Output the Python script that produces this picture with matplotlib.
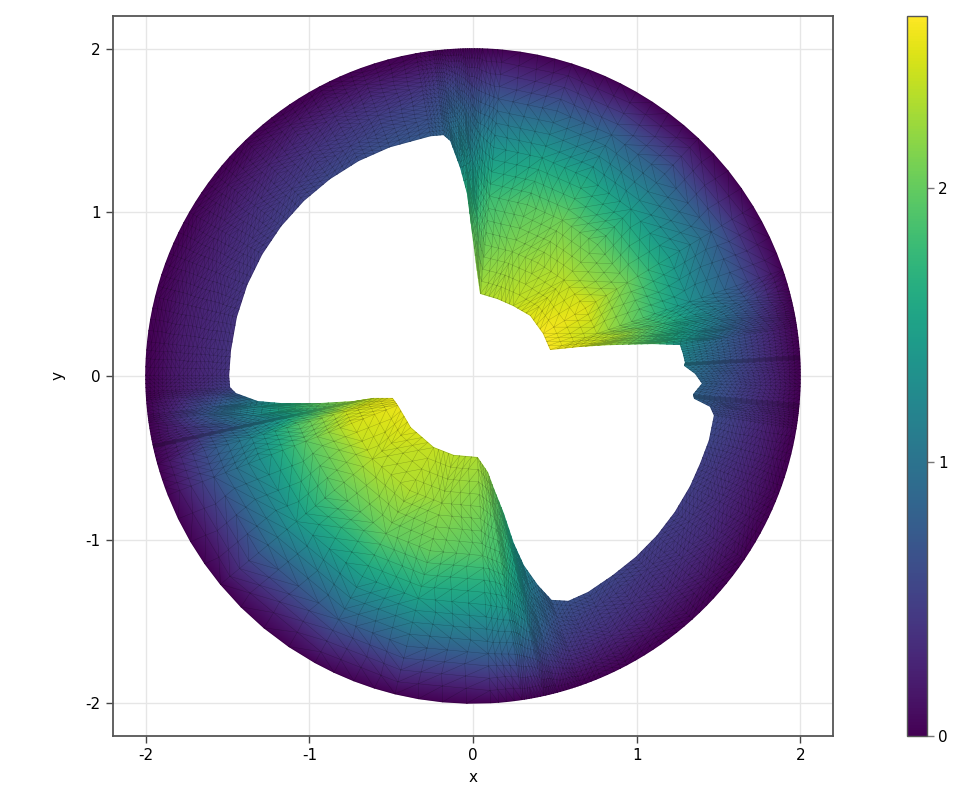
import numpy as np
import matplotlib
matplotlib.use('Agg')
import matplotlib.pyplot as plt
import matplotlib.tri as mtri

plt.rcParams['font.family'] = 'DejaVu Sans'
plt.rcParams['axes.unicode_minus'] = False

# hole outline, counter clockwise
inner_x = [1.359, 1.292, 1.298, 1.285, 1.267, 1.10, 0.95, 0.80, 0.65, 0.473,
           0.43, 0.351, 0.247, 0.15, 0.046, 0.02, -0.003, -0.034, -0.076, -0.137,
           -0.18, -0.26, -0.51, -0.70, -0.876, -1.035, -1.174, -1.29, -1.382, -1.446,
           -1.482, -1.493, -1.487, -1.45, -1.316, -1.176, -0.931, -0.73, -0.608, -0.492,
           -0.461, -0.382, -0.241, -0.119, 0.027, 0.089, 0.125, 0.186, 0.247, 0.308,
           0.394, 0.479, 0.583, 0.705, 0.855, 0.997, 1.125, 1.235, 1.328, 1.391,
           1.444, 1.475, 1.45, 1.353, 1.347, 1.402]
inner_y = [0.015, 0.064, 0.082, 0.137, 0.192, 0.198, 0.195, 0.19, 0.18, 0.162,
           0.26, 0.37, 0.43, 0.473, 0.504, 0.69, 0.87, 1.115, 1.273, 1.438,
           1.475, 1.468, 1.40, 1.316, 1.205, 1.072, 0.917, 0.745, 0.558, 0.36,
           0.156, 0.003, -0.07, -0.107, -0.156, -0.168, -0.168, -0.156, -0.137, -0.137,
           -0.18, -0.315, -0.437, -0.485, -0.498, -0.589, -0.687, -0.84, -1.023, -1.157,
           -1.279, -1.371, -1.377, -1.322, -1.22, -1.107, -0.977, -0.833, -0.676, -0.534,
           -0.394, -0.241, -0.186, -0.137, -0.113, -0.046]

# values at the hole edge and at 4 steps towards the outer circle (which is 0)
v_ring0 = [0.95, 1.10, 1.15, 1.20, 1.35, 1.90, 2.10, 2.30, 2.50, 2.60,
           2.60, 2.50, 2.40, 2.35, 2.30, 2.15, 2.00, 1.70, 1.35, 1.00,
           0.85, 0.75, 0.68, 0.62, 0.58, 0.54, 0.50, 0.46, 0.42, 0.40,
           0.40, 0.40, 0.50, 0.70, 1.15, 1.55, 2.00, 2.25, 2.40, 2.55,
           2.55, 2.50, 2.40, 2.35, 2.30, 2.20, 2.05, 1.75, 1.45, 1.20,
           0.95, 0.75, 0.65, 0.60, 0.55, 0.50, 0.50, 0.50, 0.50, 0.50,
           0.55, 0.62, 0.70, 0.85, 0.85, 0.85]
v_ring1 = [0.75, 0.88, 0.90, 0.95, 1.05, 1.50, 1.75, 2.00, 2.25, 2.35,
           2.50, 2.35, 2.25, 2.15, 2.05, 1.85, 1.65, 1.40, 1.15, 0.88,
           0.75, 0.65, 0.58, 0.52, 0.48, 0.45, 0.42, 0.38, 0.35, 0.33,
           0.33, 0.33, 0.40, 0.55, 0.95, 1.25, 1.65, 1.85, 2.05, 2.40,
           2.45, 2.35, 2.30, 2.20, 2.10, 1.95, 1.85, 1.60, 1.30, 1.08,
           0.85, 0.65, 0.55, 0.50, 0.46, 0.42, 0.42, 0.42, 0.42, 0.42,
           0.45, 0.50, 0.55, 0.70, 0.70, 0.68]
v_ring2 = [0.57, 0.66, 0.68, 0.72, 0.78, 1.10, 1.32, 1.55, 1.75, 1.90,
           2.05, 2.00, 2.05, 1.95, 1.80, 1.55, 1.30, 1.10, 0.95, 0.72,
           0.62, 0.55, 0.48, 0.43, 0.40, 0.37, 0.34, 0.31, 0.28, 0.27,
           0.27, 0.27, 0.30, 0.42, 0.72, 0.95, 1.20, 1.30, 1.50, 1.90,
           1.95, 1.95, 2.00, 2.00, 1.90, 1.80, 1.65, 1.40, 1.10, 0.92,
           0.70, 0.53, 0.45, 0.42, 0.38, 0.35, 0.35, 0.35, 0.33, 0.33,
           0.35, 0.38, 0.42, 0.52, 0.52, 0.50]
v_ring3 = [0.38, 0.45, 0.46, 0.48, 0.52, 0.72, 0.88, 1.05, 1.20, 1.30,
           1.45, 1.45, 1.55, 1.50, 1.35, 1.15, 0.95, 0.80, 0.70, 0.55,
           0.47, 0.40, 0.35, 0.31, 0.29, 0.26, 0.24, 0.22, 0.20, 0.20,
           0.20, 0.20, 0.20, 0.30, 0.50, 0.65, 0.75, 0.80, 0.95, 1.20,
           1.30, 1.40, 1.45, 1.50, 1.45, 1.40, 1.30, 1.10, 0.85, 0.70,
           0.52, 0.40, 0.33, 0.30, 0.28, 0.25, 0.25, 0.25, 0.23, 0.23,
           0.25, 0.26, 0.28, 0.35, 0.35, 0.35]
v_ring4 = [0.20, 0.22, 0.23, 0.24, 0.26, 0.36, 0.45, 0.55, 0.65, 0.72,
           0.80, 0.80, 0.85, 0.80, 0.72, 0.60, 0.50, 0.45, 0.40, 0.30,
           0.25, 0.20, 0.18, 0.16, 0.15, 0.14, 0.13, 0.12, 0.11, 0.10,
           0.10, 0.10, 0.10, 0.15, 0.25, 0.33, 0.35, 0.38, 0.45, 0.60,
           0.65, 0.70, 0.75, 0.80, 0.80, 0.75, 0.70, 0.60, 0.45, 0.38,
           0.28, 0.20, 0.17, 0.15, 0.14, 0.13, 0.13, 0.13, 0.12, 0.12,
           0.12, 0.13, 0.14, 0.18, 0.18, 0.18]
v_outer = [0.0] * len(inner_x)
ring_pos = [0.0, 0.2, 0.4, 0.6, 0.8, 1.0]

hx = np.array(inner_x)
hy = np.array(inner_y)
theta = np.arctan2(hy, hx)
vals = np.array([v_ring0, v_ring1, v_ring2, v_ring3, v_ring4, v_outer])
n_rows = len(hx)
n_rings = len(ring_pos)

xs, ys, ss = [], [], []
for s in ring_pos:
    xs.append(hx + s * (2 * np.cos(theta) - hx))
    ys.append(hy + s * (2 * np.sin(theta) - hy))
    ss.append(np.full(n_rows, s))
xs = np.concatenate(xs)
ys = np.concatenate(ys)
ss = np.concatenate(ss)
zs = vals.ravel()

triangles = []
for j in range(n_rings - 1):
    for i in range(n_rows):
        a = j * n_rows + i
        b = j * n_rows + (i + 1) % n_rows
        c = a + n_rows
        d = b + n_rows
        if (i + j) % 2 == 0:
            triangles += [[a, b, d], [a, d, c]]
        else:
            triangles += [[a, b, c], [b, d, c]]

tri = mtri.Triangulation(xs, ys, triangles)
refiner = mtri.UniformTriRefiner(tri)
fine, z_fine = refiner.refine_field(zs, mtri.LinearTriInterpolator(tri, zs), subdiv=2)
_, s_fine = refiner.refine_field(ss, mtri.LinearTriInterpolator(tri, ss), subdiv=2)

# push refined nodes of the last ring back on to the circle
xf = fine.x.copy()
yf = fine.y.copy()
on_edge = s_fine > 0.999
rf = np.hypot(xf, yf)
xf[on_edge] *= 2 / rf[on_edge]
yf[on_edge] *= 2 / rf[on_edge]
fine = mtri.Triangulation(xf, yf, fine.triangles)

fig = plt.figure(figsize=(9.6, 8), dpi=100)
ax = fig.add_axes([113 / 960, 64 / 800, 720 / 960, 720 / 800])
cax = fig.add_axes([907 / 960, 64 / 800, 20 / 960, 720 / 800])

mesh = ax.tripcolor(fine, z_fine, shading='gouraud', cmap='viridis', vmin=0, vmax=2.628)
ax.triplot(fine, color='black', lw=0.3, alpha=0.28)

ax.set_xlim(-2.2, 2.2)
ax.set_ylim(-2.2, 2.2)
ax.set_xticks([-2, -1, 0, 1, 2])
ax.set_yticks([-2, -1, 0, 1, 2])
ax.set_xlabel('x', fontsize=11, labelpad=5)
ax.set_ylabel('y', fontsize=11, labelpad=14)
ax.grid(True, color='#e6e6e6', lw=1)
ax.set_axisbelow(True)
ax.tick_params(labelsize=11, length=5, width=1, color='#444444', pad=4)
for sp in ax.spines.values():
    sp.set_color('#555555')
    sp.set_linewidth(1.3)

cb = fig.colorbar(mesh, cax=cax)
cb.set_ticks([0, 1, 2])
cb.ax.tick_params(labelsize=11, length=5, width=1, color='#777777', pad=3)
cb.outline.set_edgecolor('#555555')
cb.outline.set_linewidth(1)

plt.savefig('out.png', dpi=100)
